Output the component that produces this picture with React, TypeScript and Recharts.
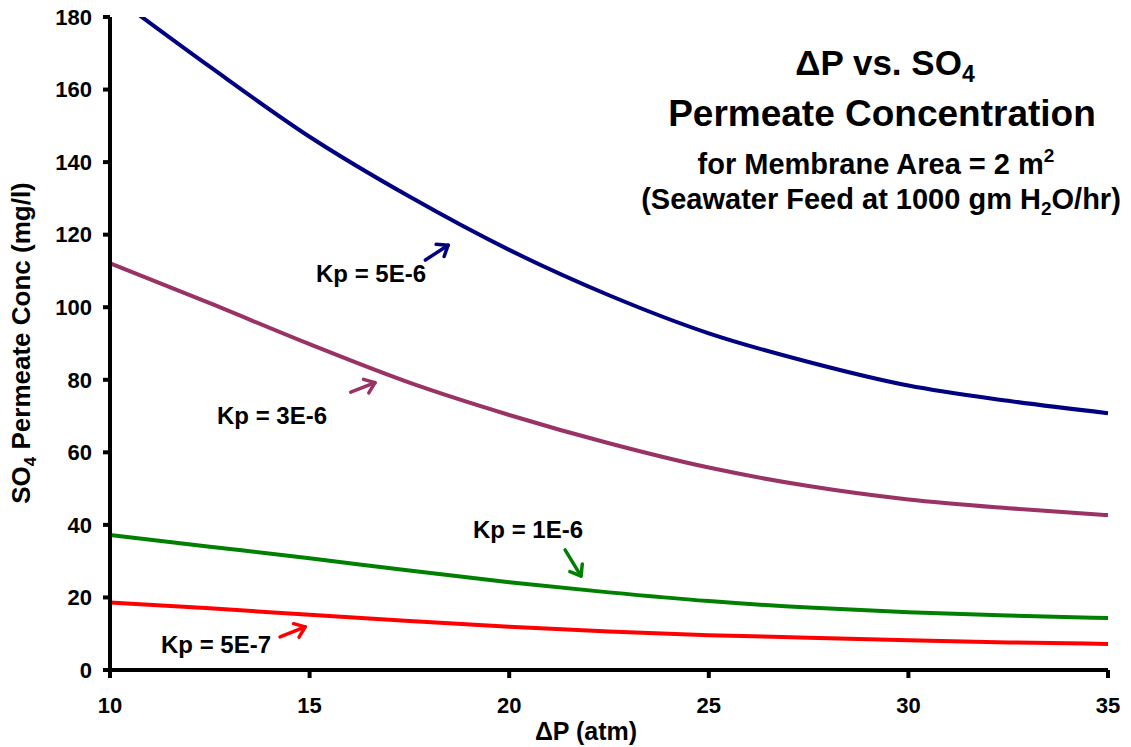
import { LineChart, Line, XAxis, YAxis, ReferenceLine } from 'recharts';

const deltaP = [10, 12.5, 15, 17.5, 20, 22.5, 25, 27.5, 30, 32.5, 35];
const kp5e6 = [186.5, 166.3, 147, 130.5, 115.8, 103.3, 92.8, 84.9, 78.4, 74.2, 70.8];
const kp3e6 = [112.1, 101.1, 89.8, 79.2, 70.3, 62.5, 55.8, 50.7, 47.0, 44.6, 42.7];
const kp1e6 = [37.2, 34.0, 30.8, 27.4, 24.2, 21.4, 19.0, 17.2, 15.9, 15.0, 14.3];
const kp5e7 = [18.6, 17.0, 15.2, 13.5, 11.9, 10.6, 9.6, 8.9, 8.2, 7.6, 7.2];

const xTicks = [10, 15, 20, 25, 30, 35];
const yTicks = [0, 20, 40, 60, 80, 100, 120, 140, 160, 180];

// arrow annotations: [tail, tip] in data units
const arrows = [
  { color: '#000080', from: [17.9, 113.0], to: [18.47, 117.1] },
  { color: '#993366', from: [16.03, 76.6], to: [16.64, 79.2] },
  { color: '#008000', from: [21.4, 33.1], to: [21.8, 25.9] },
  { color: '#FF0000', from: [14.26, 9.1], to: [14.89, 11.9] },
];

const data = deltaP.map((x, i) => ({
  x,
  a: kp5e6[i],
  b: kp3e6[i],
  c: kp1e6[i],
  d: kp5e7[i],
}));

const font = 'Arial, "Liberation Sans", sans-serif';

const Arrow = (props: any) => {
  const { x1, y1, x2, y2, stroke } = props;
  const ang = Math.atan2(y2 - y1, x2 - x1);
  const len = 12;
  const p1 = [x2 + len * Math.cos(ang + Math.PI - 0.65), y2 + len * Math.sin(ang + Math.PI - 0.65)];
  const p2 = [x2 + len * Math.cos(ang + Math.PI + 0.65), y2 + len * Math.sin(ang + Math.PI + 0.65)];
  return (
    <g stroke={stroke} strokeWidth={3.5} fill="none" strokeLinecap="round" strokeLinejoin="round">
      <line x1={x1} y1={y1} x2={x2} y2={y2} />
      <polyline points={`${p1[0]},${p1[1]} ${x2},${y2} ${p2[0]},${p2[1]}`} />
    </g>
  );
};

export default function App() {
  const tickStyle = { fontSize: 22, fontWeight: 'bold', fill: '#000', fontFamily: font };
  return (
    <div style={{ position: 'absolute', left: 0, top: 0, width: 1131, height: 747, background: '#fff' }}>
      <LineChart width={1131} height={747} data={data} margin={{ top: 17, right: 23, left: 40, bottom: 17 }}>
        <XAxis
          dataKey="x"
          type="number"
          domain={[10, 35]}
          ticks={xTicks}
          tick={tickStyle}
          tickSize={8}
          tickMargin={19}
          height={60}
          axisLine={{ stroke: '#000', strokeWidth: 4 }}
          tickLine={{ stroke: '#000', strokeWidth: 4 }}
        />
        <YAxis
          type="number"
          domain={[0, 180]}
          ticks={yTicks}
          allowDataOverflow
          tick={tickStyle}
          tickSize={7}
          tickMargin={11}
          width={70}
          axisLine={{ stroke: '#000', strokeWidth: 4 }}
          tickLine={{ stroke: '#000', strokeWidth: 4 }}
        />
        <Line dataKey="a" type="monotone" stroke="#000080" strokeWidth={4} dot={false} isAnimationActive={false} />
        <Line dataKey="b" type="monotone" stroke="#993366" strokeWidth={4} dot={false} isAnimationActive={false} />
        <Line dataKey="c" type="monotone" stroke="#008000" strokeWidth={4} dot={false} isAnimationActive={false} />
        <Line dataKey="d" type="monotone" stroke="#FF0000" strokeWidth={4} dot={false} isAnimationActive={false} />
        {arrows.map((ar, i) => (
          <ReferenceLine
            key={i}
            segment={[{ x: ar.from[0], y: ar.from[1] }, { x: ar.to[0], y: ar.to[1] }]}
            stroke={ar.color}
            shape={Arrow}
          />
        ))}
      </LineChart>
      <svg
        width={1131}
        height={747}
        style={{ position: 'absolute', left: 0, top: 0, pointerEvents: 'none' }}
        fontFamily={font}
        fontWeight="bold"
        fill="#000"
      >
        <g textAnchor="middle">
          <text x={885} y={75} fontSize={35}>
            ΔP vs. SO<tspan fontSize={23} dy={7}>4</tspan>
          </text>
          <text x={882} y={126} fontSize={37}>Permeate Concentration</text>
          <text x={876} y={174} fontSize={29}>
            for Membrane Area = 2 m<tspan fontSize={19} dy={-12}>2</tspan>
          </text>
          <text x={881} y={209} fontSize={29}>
            (Seawater Feed at 1000 gm H<tspan fontSize={19} dy={6}>2</tspan>
            <tspan dy={-6}>O/hr)</tspan>
          </text>
          <text x={586} y={740} fontSize={25}>ΔP (atm)</text>
          <text x={0} y={0} fontSize={26} transform="translate(30,343) rotate(-90)">
            SO<tspan fontSize={17} dy={6}>4</tspan>
            <tspan dy={-6}> Permeate Conc (mg/l)</tspan>
          </text>
        </g>
        <g fontSize={24}>
          <text x={316} y={282}>Kp = 5E-6</text>
          <text x={217} y={424}>Kp = 3E-6</text>
          <text x={473} y={538}>Kp = 1E-6</text>
          <text x={161} y={653}>Kp = 5E-7</text>
        </g>
      </svg>
    </div>
  );
}
